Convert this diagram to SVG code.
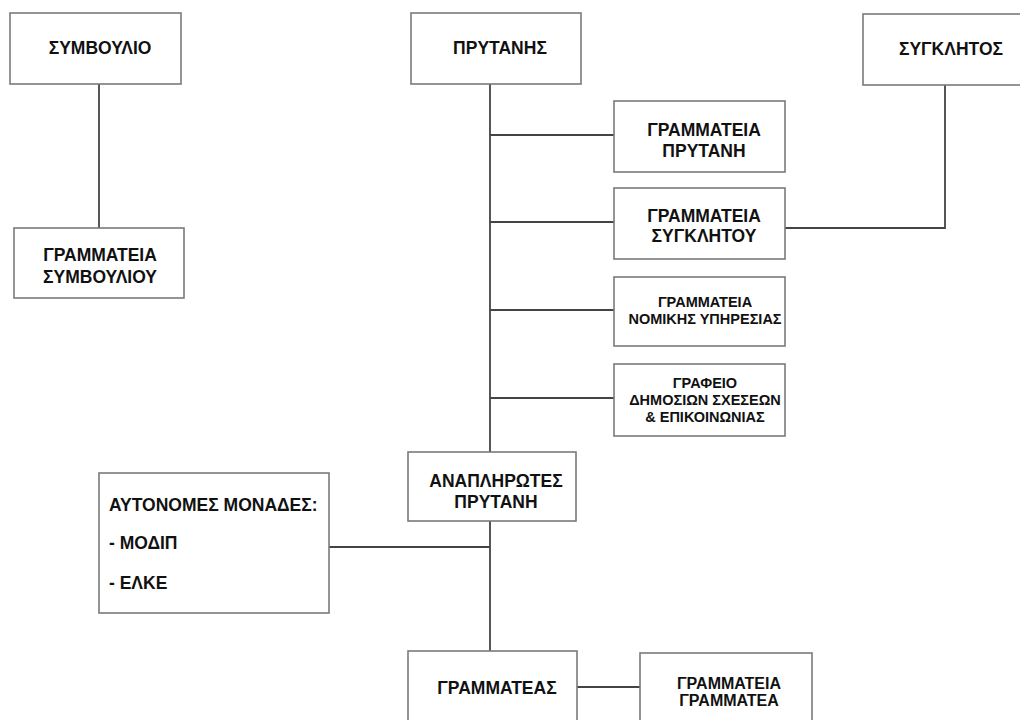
<svg xmlns="http://www.w3.org/2000/svg" width="1020" height="720" viewBox="0 0 1020 720">
<style>
.box{fill:#fff;stroke:#7a7a7a;stroke-width:1.6}
.t{font-family:"Liberation Sans",Arial,sans-serif;font-weight:bold;font-size:17.5px;fill:#111;text-anchor:middle}
.s{font-size:14.5px}
.m{font-size:16px}
.l{text-anchor:start}
.c{fill:none;stroke:#444;stroke-width:1.8}
</style>
<rect width="1020" height="720" fill="#fff"/>
<g id="connectors">
<path class="c" d="M99 84V228"/>
<path class="c" d="M490 84V452"/>
<path class="c" d="M490 521V651"/>
<path class="c" d="M490 135H614M490 222H614M490 310H614M490 398H614"/>
<path class="c" d="M945 85V228H785"/>
<path class="c" d="M329 547H490"/>
<path class="c" d="M577 687H640"/>
</g>
<g id="symvoulio"><rect class="box" x="10" y="13" width="171" height="71"/><text class="t" x="100" y="54">ΣΥΜΒΟΥΛΙΟ</text></g>
<g id="grammateia-symvouliou"><rect class="box" x="14" y="228" width="170" height="70"/><text class="t" x="100" y="261">ΓΡΑΜΜΑΤΕΙΑ</text><text class="t" x="100" y="283">ΣΥΜΒΟΥΛΙΟΥ</text></g>
<g id="prytanis"><rect class="box" x="411" y="13" width="170" height="71"/><text class="t" x="500" y="54">ΠΡΥΤΑΝΗΣ</text></g>
<g id="synklitos"><rect class="box" x="863" y="14" width="160" height="71"/><text class="t" x="951" y="55">ΣΥΓΚΛΗΤΟΣ</text></g>
<g id="grammateia-prytani"><rect class="box" x="614" y="101" width="171" height="71"/><text class="t" x="704" y="136">ΓΡΑΜΜΑΤΕΙΑ</text><text class="t" x="704" y="157">ΠΡΥΤΑΝΗ</text></g>
<g id="grammateia-synklitou"><rect class="box" x="614" y="188" width="171" height="71"/><text class="t" x="704" y="222">ΓΡΑΜΜΑΤΕΙΑ</text><text class="t" x="704" y="242">ΣΥΓΚΛΗΤΟΥ</text></g>
<g id="grammateia-nomikis"><rect class="box" x="614" y="277" width="171" height="69"/><text class="t s" x="705" y="307">ΓΡΑΜΜΑΤΕΙΑ</text><text class="t s" x="705" y="324">ΝΟΜΙΚΗΣ ΥΠΗΡΕΣΙΑΣ</text></g>
<g id="grafeio"><rect class="box" x="614" y="364" width="171" height="72"/><text class="t s" x="705" y="388">ΓΡΑΦΕΙΟ</text><text class="t s" x="705" y="405">ΔΗΜΟΣΙΩΝ ΣΧΕΣΕΩΝ</text><text class="t s" x="705" y="422">&amp; ΕΠΙΚΟΙΝΩΝΙΑΣ</text></g>
<g id="anaplirotes"><rect class="box" x="408" y="452" width="168" height="69"/><text class="t" x="496" y="487">ΑΝΑΠΛΗΡΩΤΕΣ</text><text class="t" x="496" y="508">ΠΡΥΤΑΝΗ</text></g>
<g id="aftonomes"><rect class="box" x="99" y="473" width="230" height="140"/><text class="t l" x="109" y="511">ΑΥΤΟΝΟΜΕΣ ΜΟΝΑΔΕΣ:</text><text class="t l" x="109" y="549">- ΜΟΔΙΠ</text><text class="t l" x="109" y="589">- ΕΛΚΕ</text></g>
<g id="grammateas"><rect class="box" x="408" y="651" width="169" height="75"/><text class="t" x="497" y="694">ΓΡΑΜΜΑΤΕΑΣ</text></g>
<g id="grammateia-grammatea"><rect class="box" x="640" y="653" width="172" height="75"/><text class="t m" x="729" y="689">ΓΡΑΜΜΑΤΕΙΑ</text><text class="t m" x="729" y="706">ΓΡΑΜΜΑΤΕΑ</text></g>
</svg>
